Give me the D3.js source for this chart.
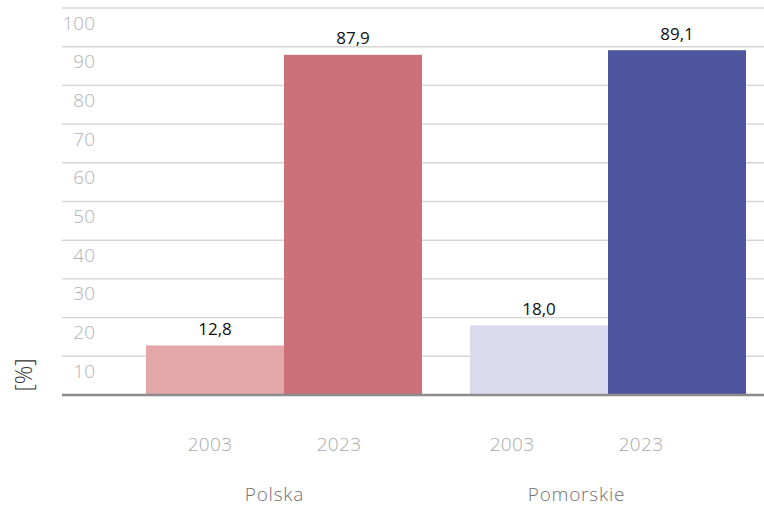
<!DOCTYPE html>
<html>
<head>
<meta charset="utf-8">
<script src="https://cdn.jsdelivr.net/npm/d3@7"></script>
<style>
  html, body { margin: 0; padding: 0; background: #fff; }
  svg { display: block; font-family: "Open Sans", "Noto Sans", sans-serif; }
</style>
</head>
<body>
<svg id="chart" width="764" height="507"></svg>
<script>
// Regions and survey years
const groups = ["Polska", "Pomorskie"];
const years = ["2003", "2023"];
// Share of households [%]
const polskaValues = [12.8, 87.9];
const pomorskieValues = [18.0, 89.1];
const yTicks = [10, 20, 30, 40, 50, 60, 70, 80, 90, 100];

const colors = {
  Polska: ["#e3a7aa", "#cc717a"],
  Pomorskie: ["#dadaee", "#4e56a0"]
};

const rows = [
  { group: "Polska", values: polskaValues },
  { group: "Pomorskie", values: pomorskieValues }
];

const svg = d3.select("#chart");
const W = 764;

const y = d3.scaleLinear().domain([0, 100]).range([395, 8]);

// Bars
const x0 = d3.scaleBand().domain(groups).range([146, 746]).paddingInner(48 / 324);
const x1 = d3.scaleBand().domain(years).range([0, x0.bandwidth()]);

// Axis label placement
const lx0 = d3.scaleBand().domain(groups).range([145.5, 705.5]).paddingInner(44 / 302);
const lx1 = d3.scaleBand().domain(years).range([0, lx0.bandwidth()]);

const fmt = v => d3.format(".1f")(v).replace(".", ",");

// Grid lines
svg.append("g").selectAll("line").data(yTicks).join("line")
  .attr("x1", 62).attr("x2", W)
  .attr("y1", d => y(d)).attr("y2", d => y(d))
  .attr("stroke", "#d4d4d4").attr("stroke-width", 1.4);

// Y tick labels (sit just below each grid line)
svg.append("g").selectAll("text").data(yTicks).join("text")
  .attr("x", 95)
  .attr("y", d => y(d) + 21.5)
  .attr("text-anchor", "end")
  .attr("font-size", 19)
  .attr("font-weight", 300)
  .attr("fill", "#b3b3b3")
  .text(d => d);

// Bars
const g = svg.append("g").selectAll("g").data(rows).join("g")
  .attr("transform", d => `translate(${x0(d.group)},0)`);

g.selectAll("rect")
  .data(d => d.values.map((v, i) => ({ group: d.group, year: years[i], v, i })))
  .join("rect")
  .attr("x", d => x1(d.year))
  .attr("width", x1.bandwidth())
  .attr("y", d => y(d.v))
  .attr("height", d => y(0) - y(d.v))
  .attr("fill", d => colors[d.group][d.i]);

g.selectAll("text.val")
  .data(d => d.values.map((v, i) => ({ group: d.group, year: years[i], v })))
  .join("text")
  .attr("class", "val")
  .attr("x", d => x1(d.year) + x1.bandwidth() / 2)
  .attr("y", d => y(d.v) - 10.5)
  .attr("text-anchor", "middle")
  .attr("font-size", 17)
  .attr("fill", "#111")
  .text(d => fmt(d.v));

// Baseline
svg.append("line")
  .attr("x1", 62).attr("x2", W)
  .attr("y1", y(0)).attr("y2", y(0))
  .attr("stroke", "#8c8c8c").attr("stroke-width", 2.5);

// Year labels
const yl = svg.append("g");
groups.forEach(gr => {
  years.forEach(yr => {
    yl.append("text")
      .attr("x", lx0(gr) + lx1(yr) + lx1.bandwidth() / 2)
      .attr("y", 451)
      .attr("text-anchor", "middle")
      .attr("font-size", 19)
      .attr("font-weight", 300)
      .attr("letter-spacing", 0.3)
      .attr("fill", "#a8a8a8")
      .text(yr);
  });
});

// Region labels
svg.append("g").selectAll("text").data(groups).join("text")
  .attr("x", d => lx0(d) + lx0.bandwidth() / 2)
  .attr("y", 501)
  .attr("text-anchor", "middle")
  .attr("font-size", 19)
  .attr("font-weight", 300)
  .attr("letter-spacing", 0.8)
  .attr("fill", "#707070")
  .text(d => d);

// Unit label
svg.append("text")
  .attr("transform", "translate(32,375) rotate(-90)")
  .attr("text-anchor", "middle")
  .attr("font-size", 23)
  .attr("font-weight", 300)
  .attr("fill", "#333")
  .text("[%]");
</script>
</body>
</html>
